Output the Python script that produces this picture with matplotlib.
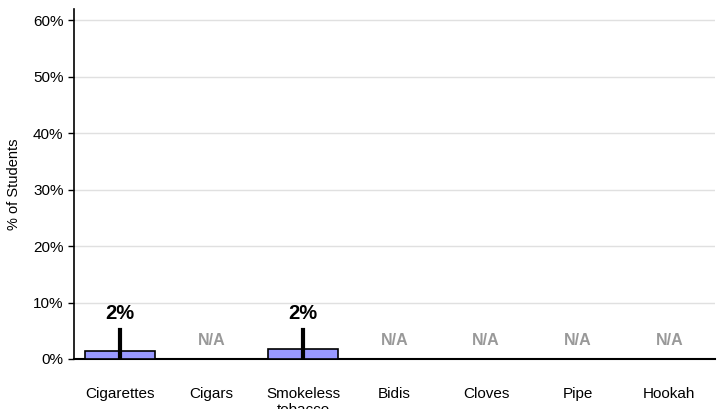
import matplotlib.pyplot as plt
import numpy as np

categories = ["Cigarettes", "Cigars", "Smokeless\ntobacco", "Bidis", "Cloves", "Pipe", "Hookah"]
values = [1.5, None, 1.8, None, None, None, None]
ci_low = [0.0, None, 0.0, None, None, None, None]
ci_high = [5.2, None, 5.2, None, None, None, None]
labels = ["2%", "N/A", "2%", "N/A", "N/A", "N/A", "N/A"]
yticks = [0, 10, 20, 30, 40, 50, 60]

plt.rcParams['font.family'] = ['Liberation Sans', 'DejaVu Sans']

fig = plt.figure(figsize=(7.17, 4.09), dpi=100)
ax = fig.add_axes([74 / 717, 50 / 409, 641 / 717, 350 / 409])

x = np.arange(len(categories))
for i, v in enumerate(values):
    if v is None:
        ax.text(i, 3.2, labels[i], ha='center', va='center', fontsize=11.5,
                fontweight='bold', color='#999999')
        continue
    ax.bar(i, v, width=0.76, color='#9999ff', edgecolor='black', linewidth=1.2, zorder=3)
    ax.plot([i, i], [ci_low[i], ci_high[i]], color='black', linewidth=3, zorder=4)
    ax.text(i, 8.0, labels[i], ha='center', va='center', fontsize=14.5, fontweight='bold')

ax.set_xlim(-0.5, len(categories) - 0.5)
ax.set_ylim(0, 62)
ax.set_yticks(yticks)
ax.set_yticklabels([f"{t}%" for t in yticks], fontsize=11)
ax.set_xticks(x)
ax.set_xticklabels(categories, fontsize=11, va='top')
ax.tick_params(axis='x', length=0, pad=20)
ax.tick_params(axis='y', length=4, width=1)
ax.grid(axis='y', color='#e0e0e0', linewidth=1, zorder=0)
ax.set_axisbelow(True)
ax.spines['top'].set_visible(False)
ax.spines['right'].set_visible(False)
ax.spines['left'].set_linewidth(1.2)
ax.spines['bottom'].set_linewidth(1.5)
ax.set_ylabel("% of Students", fontsize=10.5)
ax.yaxis.set_label_coords(-0.082, 0.5)

fig.savefig("out.png", dpi=100)
